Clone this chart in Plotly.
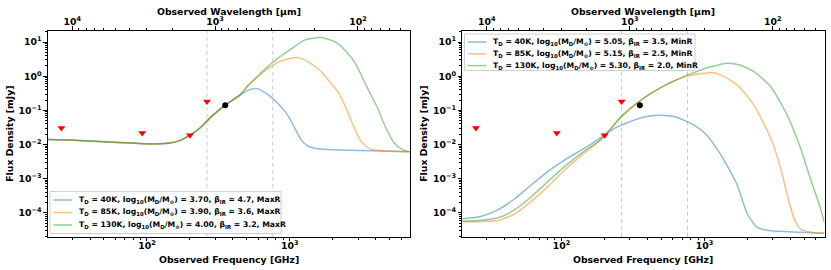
import numpy as np
import plotly.graph_objects as go

C_UM_GHZ = 299792.458  # wavelength [um] = C / frequency [GHz]

# ---------------- Left panel (MaxR) ----------------
freq_L40 = [20.2, 31.4, 46.9, 70.2, 95.3, 123, 145, 170, 200, 235, 285, 351, 447, 516, 587, 679, 841, 968, 1079, 1200, 1337, 1571, 2066, 3090, 4618, 6900]
flux_L40 = [0.0139, 0.0132, 0.0122, 0.0112, 0.0105, 0.0105, 0.0111, 0.013, 0.0187, 0.0305, 0.068, 0.14, 0.275, 0.398, 0.438, 0.319, 0.146, 0.0714, 0.0305, 0.0139, 0.0089, 0.00744, 0.00697, 0.00664, 0.00638, 0.00617]

freq_L85 = [20.2, 31.4, 46.9, 70.2, 95.3, 123, 145, 170, 200, 235, 285, 351, 447, 516, 587, 679, 841, 968, 1144, 1337, 1656, 1900, 2165, 2532, 2826, 3150, 3599, 4353, 5450, 6900]
flux_L85 = [0.0139, 0.0132, 0.0122, 0.0112, 0.0105, 0.0105, 0.0111, 0.013, 0.0187, 0.0305, 0.068, 0.14, 0.285, 0.56, 0.9, 1.51, 2.63, 3.19, 3.51, 2.69, 1.37, 0.687, 0.358, 0.0933, 0.0305, 0.0125, 0.00759, 0.00664, 0.00638, 0.00617]

freq_L130 = [20.2, 31.4, 46.9, 70.2, 95.3, 123, 145, 170, 200, 235, 285, 351, 447, 516, 587, 679, 841, 1034, 1263, 1656, 2165, 2826, 3495, 4110, 4701, 5380, 6151, 6900]
flux_L130 = [0.0139, 0.0132, 0.0122, 0.0112, 0.0105, 0.0105, 0.0111, 0.013, 0.0187, 0.0305, 0.068, 0.14, 0.285, 0.562, 0.95, 1.71, 3.58, 6.55, 11.4, 13.7, 9.17, 2.69, 0.447, 0.117, 0.0305, 0.0111, 0.0071, 0.00617]

# ---------------- Right panel (MinR) ----------------
freq_R40 = [20.2, 27.6, 36.1, 47.1, 61.7, 80.5, 105.4, 138, 166, 199, 236, 285, 372, 487, 637, 832, 1010, 1294, 1691, 1986, 2333, 2896, 4634, 6900]
flux_R40 = [6.6e-5, 7.9e-5, 1.23e-4, 2.57e-4, 6.6e-4, 1.62e-3, 3.55e-3, 6.9e-3, 0.0112, 0.0186, 0.030, 0.0427, 0.063, 0.0714, 0.063, 0.038, 0.021, 5.1e-3, 6.5e-4, 9.5e-5, 3.7e-5, 2.95e-5, 2.7e-5, 2.5e-5]

freq_R85 = [20.2, 27.6, 36.1, 47.1, 61.7, 80.5, 105.4, 138, 180, 199, 263, 353, 487, 637, 790, 993, 1124, 1294, 1691, 2207, 2896, 3399, 3776, 4206, 4690, 5823, 6900]
flux_R85 = [5.4e-5, 5.5e-5, 5.9e-5, 9.3e-5, 2.19e-4, 5.9e-4, 1.82e-3, 4.8e-3, 0.0117, 0.0174, 0.0668, 0.19, 0.447, 0.78, 1.05, 1.22, 1.28, 1.1, 0.56, 0.145, 0.0155, 2.1e-3, 3.5e-4, 7.2e-5, 3.3e-5, 2.6e-5, 2.5e-5]

freq_R130 = [20.2, 27.6, 36.1, 47.1, 61.7, 80.5, 105.4, 138, 180, 199, 263, 353, 487, 637, 790, 993, 1187, 1429, 1762, 2207, 2896, 3776, 4690, 5463, 6332, 6900]
flux_R130 = [5.6e-5, 6.0e-5, 7.1e-5, 1.23e-4, 3.0e-4, 8.3e-4, 2.29e-3, 5.6e-3, 0.012, 0.0178, 0.0668, 0.19, 0.447, 0.79, 1.15, 1.66, 2.04, 2.4, 2.14, 1.37, 0.50, 0.074, 7.9e-3, 1.07e-3, 1.78e-4, 5.1e-5]

# ---------------- Observations ----------------
freq_limits = [25.2, 92.7, 200, 263]
flux_limits = [0.0305, 0.0218, 0.0187, 0.183]
freq_detect = [353]
flux_detect = [0.14]
band_edges_ghz = [263, 760]

names_left = [
    "T<sub>D</sub> = 40K, log<sub>10</sub>(M<sub>D</sub>/M<sub>⊙</sub>) = 3.70, β<sub>IR</sub> = 4.7, MaxR",
    "T<sub>D</sub> = 85K, log<sub>10</sub>(M<sub>D</sub>/M<sub>⊙</sub>) = 3.90, β<sub>IR</sub> = 3.6, MaxR",
    "T<sub>D</sub> = 130K, log<sub>10</sub>(M<sub>D</sub>/M<sub>⊙</sub>) = 4.00, β<sub>IR</sub> = 3.2, MaxR",
]
names_right = [
    "T<sub>D</sub> = 40K, log<sub>10</sub>(M<sub>D</sub>/M<sub>⊙</sub>) = 5.05, β<sub>IR</sub> = 3.5, MinR",
    "T<sub>D</sub> = 85K, log<sub>10</sub>(M<sub>D</sub>/M<sub>⊙</sub>) = 5.15, β<sub>IR</sub> = 2.5, MinR",
    "T<sub>D</sub> = 130K, log<sub>10</sub>(M<sub>D</sub>/M<sub>⊙</sub>) = 5.30, β<sub>IR</sub> = 2.0, MinR",
]
colors = ["rgba(31,119,180,0.5)", "rgba(255,127,14,0.5)", "rgba(44,160,44,0.5)"]

freq_tickvals = [100, 1000]
freq_ticktext = ["10<sup>2</sup>", "10<sup>3</sup>"]
wave_tickvals = [1e4, 1e3, 1e2]
wave_ticktext = ["10<sup>4</sup>", "10<sup>3</sup>", "10<sup>2</sup>"]
flux_tickvals = [1e-4, 1e-3, 1e-2, 1e-1, 1, 10]
flux_ticktext = ["10<sup>−4</sup>", "10<sup>−3</sup>", "10<sup>−2</sup>", "10<sup>−1</sup>", "10<sup>0</sup>", "10<sup>1</sup>"]

FREQ_MIN, FREQ_MAX = 20.2, 6900
FLUX_MIN, FLUX_MAX = 1.97e-5, 21.9

W, H = 831, 270


def minor_vals(lo_exp, hi_exp):
    out = []
    for e in range(lo_exp, hi_exp + 1):
        for m in range(2, 10):
            out.append(m * 10.0 ** e)
    return out


def px(x):
    return x / W


def py(y):
    return (H - y) / H


fig = go.Figure()

dom_left = [47.7 / W, 409.7 / W]
dom_right = [462.2 / W, 824.5 / W]
dom_y = [(H - 236.8) / H, (H - 30.5) / H]

# legend layout in pixels: (box left, box top, box right, box bottom), first row y, row step
panels = [
    dict(xa="x", ya="y", xw="x3", dom=dom_left,
         curves=[(freq_L40, flux_L40), (freq_L85, flux_L85), (freq_L130, flux_L130)], names=names_left,
         box=(50, 191.5, 281, 233.5), row0=200, step=12.5),
    dict(xa="x2", ya="y2", xw="x4", dom=dom_right,
         curves=[(freq_R40, flux_R40), (freq_R85, flux_R85), (freq_R130, flux_R130)], names=names_right,
         box=(464.5, 34, 695, 70.5), row0=42, step=11.8),
]

titlefont = dict(family="DejaVu Sans", size=9.3, color="black", weight="bold")

shapes = []
annotations = []
for p in panels:
    for (fx, fy), nm, col in zip(p["curves"], p["names"], colors):
        fig.add_trace(go.Scatter(x=fx, y=fy, mode="lines", name=nm, showlegend=False,
                                 line=dict(color=col, width=1.5, shape="spline", smoothing=0.6),
                                 xaxis=p["xa"], yaxis=p["ya"]))
    fig.add_trace(go.Scatter(x=freq_limits, y=flux_limits, mode="markers", showlegend=False,
                             marker=dict(symbol="triangle-down", size=7, color="red"),
                             xaxis=p["xa"], yaxis=p["ya"]))
    fig.add_trace(go.Scatter(x=freq_detect, y=flux_detect, mode="markers", showlegend=False,
                             marker=dict(symbol="circle", size=6, color="black"),
                             xaxis=p["xa"], yaxis=p["ya"]))
    # invisible trace on the wavelength axis so that the top axis exists
    fig.add_trace(go.Scatter(x=[C_UM_GHZ / f for f in freq_detect], y=flux_detect, mode="markers",
                             showlegend=False, hoverinfo="skip", marker=dict(opacity=0),
                             xaxis=p["xw"], yaxis=p["ya"]))
    for b in band_edges_ghz:
        shapes.append(dict(type="line", xref=p["xa"], yref=p["ya"] + " domain", x0=b, x1=b, y0=0, y1=1,
                           line=dict(color="rgba(190,190,190,0.8)", width=1, dash="4px,3px"), layer="below"))
    # axis titles (top and bottom)
    xc = (p["dom"][0] + p["dom"][1]) / 2
    annotations.append(dict(text="Observed Wavelength [μm]", xref="paper", yref="paper", x=xc, y=py(11),
                            xanchor="center", yanchor="middle", showarrow=False, font=titlefont))
    annotations.append(dict(text="Observed Frequency [GHz]", xref="paper", yref="paper", x=xc, y=py(259),
                            xanchor="center", yanchor="middle", showarrow=False, font=titlefont))
    # hand-made legend (matplotlib style)
    l, t, r, b = p["box"]
    shapes.append(dict(type="rect", xref="paper", yref="paper", x0=px(l), x1=px(r), y0=py(b), y1=py(t),
                       fillcolor="rgba(255,255,255,0.8)", line=dict(color="#d0d0d0", width=1), layer="above"))
    for i, (nm, col) in enumerate(zip(p["names"], colors)):
        yy = p["row0"] + i * p["step"]
        shapes.append(dict(type="line", xref="paper", yref="paper", x0=px(l + 3.5), x1=px(l + 22),
                           y0=py(yy), y1=py(yy), line=dict(color=col, width=1.5), layer="above"))
        annotations.append(dict(text="<b>" + nm + "</b>", xref="paper", yref="paper", x=px(l + 26.5), y=py(yy),
                                xanchor="left", yanchor="middle", showarrow=False,
                                font=dict(family="DejaVu Sans", size=7.7, color="black")))

tickfont = dict(family="DejaVu Sans", size=9.3, color="black", weight="bold")

common_axis = dict(type="log", showline=True, linecolor="black", linewidth=0.8, ticks="outside",
                   ticklen=3.5, tickwidth=0.8, tickcolor="black", showgrid=False, zeroline=False,
                   tickfont=tickfont, tickmode="array", automargin=False)

freq_range = [np.log10(FREQ_MIN), np.log10(FREQ_MAX)]
wave_range = [np.log10(C_UM_GHZ / FREQ_MIN), np.log10(C_UM_GHZ / FREQ_MAX)]
flux_range = [np.log10(FLUX_MIN), np.log10(FLUX_MAX)]

for xa, ya, xw, dom in [("xaxis", "yaxis", "xaxis3", dom_left), ("xaxis2", "yaxis2", "xaxis4", dom_right)]:
    yname = "y" if ya == "yaxis" else "y2"
    xname = "x" if xa == "xaxis" else "x2"
    fig.layout[xa] = dict(common_axis, domain=dom, anchor=yname, range=freq_range, mirror=True,
                          tickvals=freq_tickvals, ticktext=freq_ticktext, ticklabelstandoff=-3,
                          minor=dict(tickmode="array", tickvals=minor_vals(1, 3), ticks="outside",
                                     ticklen=2, tickwidth=0.6, tickcolor="black", showgrid=False))
    fig.layout[xw] = dict(common_axis, overlaying=xname, side="top", anchor=yname, range=wave_range,
                          tickvals=wave_tickvals, ticktext=wave_ticktext, showline=False,
                          ticklabelstandoff=-3,
                          minor=dict(tickmode="array", tickvals=minor_vals(1, 4), ticks="outside",
                                     ticklen=2, tickwidth=0.6, tickcolor="black", showgrid=False))
    fig.layout[ya] = dict(common_axis, domain=dom_y, anchor=xname, range=flux_range, mirror=True,
                          tickvals=flux_tickvals, ticktext=flux_ticktext,
                          minor=dict(tickmode="array", tickvals=minor_vals(-5, 1), ticks="outside",
                                     ticklen=2, tickwidth=0.6, tickcolor="black", showgrid=False),
                          title=dict(text="Flux Density [mJy]", font=titlefont, standoff=3))

fig.update_layout(
    width=W, height=H, margin=dict(l=0, r=0, t=0, b=0),
    plot_bgcolor="white", paper_bgcolor="white",
    font=dict(family="DejaVu Sans", color="black"),
    showlegend=False, shapes=shapes, annotations=annotations,
)

fig.write_html("out.html", config={"displayModeBar": False},
               post_script="document.body.style.margin='0';document.body.style.overflow='hidden';")
